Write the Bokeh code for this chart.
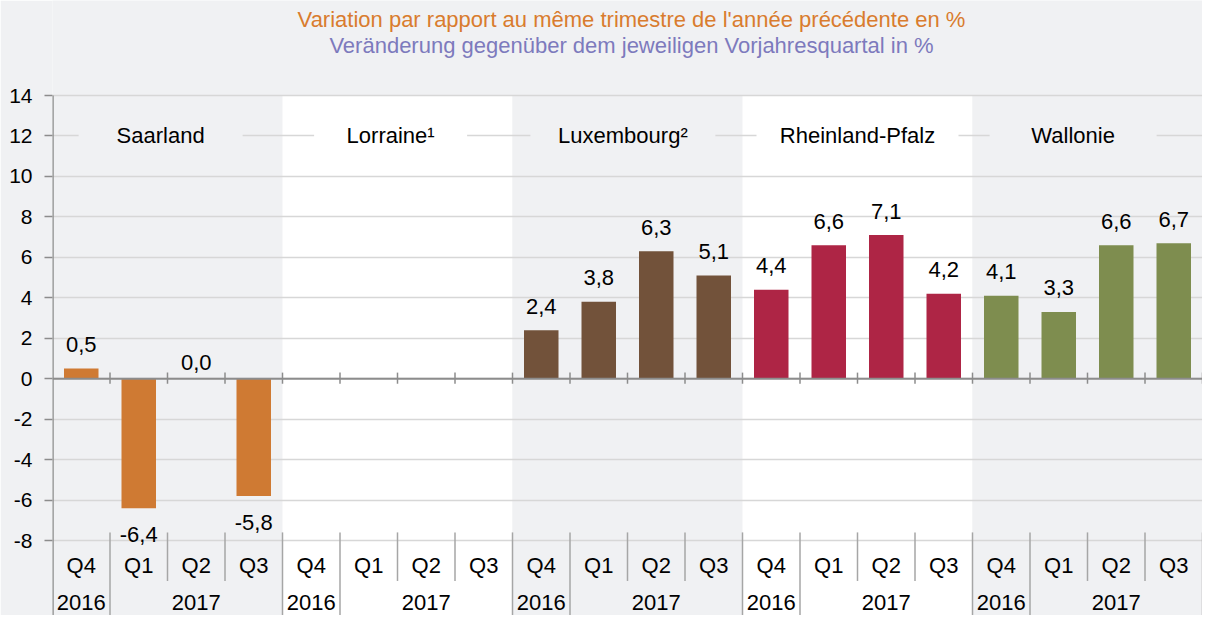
from bokeh.plotting import figure
from bokeh.models import Range1d, FixedTicker, ColumnDataSource, CustomJSTickFormatter
from bokeh.core.properties import value
from bokeh.embed import file_html
from bokeh.resources import INLINE

# ---------------- data ----------------
regions = ["Saarland", "Lorraine\u00b9", "Luxembourg\u00b2", "Rheinland-Pfalz", "Wallonie"]
quarters = ["Q4", "Q1", "Q2", "Q3"]
years = ["2016", "2017"]
saarland = [0.5, -6.4, 0.0, -5.8]
lorraine = [None, None, None, None]
luxembourg = [2.4, 3.8, 6.3, 5.1]
rheinland_pfalz = [4.4, 6.6, 7.1, 4.2]
wallonie = [4.1, 3.3, 6.6, 6.7]
y_ticks = [-8, -6, -4, -2, 0, 2, 4, 6, 8, 10, 12, 14]
title_fr = "Variation par rapport au même trimestre de l'année précédente en %"
title_de = "Veränderung gegenüber dem jeweiligen Vorjahresquartal in %"

# ---------------- styles ----------------
series = [saarland, lorraine, luxembourg, rheinland_pfalz, wallonie]
bar_colors = ["#cf7a33", "#999999", "#72523a", "#ae2545", "#7e8d4f"]
band_colors = ["#f0f1f3", "#ffffff", "#f0f1f3", "#ffffff", "#f0f1f3"]
label_centers = [-0.12, -0.12, -0.08, 0.0, -0.25]   # offset of region label from band centre (category units)
label_gaps = [164, 153, 185, 202, 167]               # px gap in gridline behind the region label
BG = "#f0f1f3"
FONT = value("Liberation Sans")
FS = "22px"
W, H = 1202, 615
LEFT = 52
TOP14 = 95                # px of y=14 from top
PX = 445 / 22.0           # px per y unit
CW = (W - LEFT) / 20.0    # px per category
YTOP = 14 + TOP14 / PX
YBOT = -8 - (H - TOP14 - 445) / PX

p = figure(width=W, height=H, output_backend="svg", toolbar_location=None,
           x_range=Range1d(0, 20), y_range=Range1d(YBOT, YTOP),
           min_border=0, min_border_left=LEFT,
           background_fill_color=BG, border_fill_color=BG, outline_line_color=None)

# titles
tx = (631 - LEFT) / CW
p.text(x=[tx], y=[14 + 76 / PX], text=[title_fr], text_font=FONT, text_font_size="22px",
       text_align="center", text_baseline="middle", text_color="#d97c2e")
p.text(x=[tx], y=[14 + 50 / PX], text=[title_de], text_font=FONT, text_font_size="22px",
       text_align="center", text_baseline="middle", text_color="#7d7abd")

# bands
for g in range(len(regions)):
    p.quad(left=[g * 4], right=[g * 4 + 4], bottom=[YBOT], top=[14], fill_color=band_colors[g],
           line_color=None, level="image")

# axes / grid
p.xaxis.visible = False
p.xgrid.visible = False
p.yaxis.ticker = FixedTicker(ticks=y_ticks)
p.yaxis.formatter = CustomJSTickFormatter(code="return tick.toString();")
p.yaxis.major_label_text_font = "Liberation Sans"
p.yaxis.major_label_text_font_size = "21px"
p.yaxis.major_label_text_color = "#000000"
p.yaxis.major_label_standoff = 12
p.yaxis.major_tick_out = 8
p.yaxis.major_tick_in = 0
p.yaxis.minor_tick_out = 0
p.yaxis.minor_tick_in = 0
p.yaxis.major_tick_line_color = "#8c8c8c"
p.yaxis.major_tick_line_width = 1.5
p.yaxis.axis_line_color = None
p.ygrid.grid_line_color = "#d7d7d7"
p.ygrid.grid_line_width = 1.5
p.segment(x0=[0], y0=[14], x1=[0], y1=[YBOT], line_color="#8c8c8c", line_width=2.5)

# gaps in the gridline behind region labels
for g, name in enumerate(regions):
    cx = g * 4 + 2 + label_centers[g]
    half = label_gaps[g] / CW / 2
    p.quad(left=[cx - half], right=[cx + half], bottom=[11.8], top=[12.2],
           fill_color=band_colors[g], line_color=None)
    p.text(x=[cx], y=[12], text=[name], text_font=FONT, text_font_size=FS,
           text_align="center", text_baseline="middle", text_color="#000000")

# bars and value labels
for g, vals in enumerate(series):
    xs, tops, labels, offs = [], [], [], []
    for q, v in enumerate(vals):
        if v is None:
            continue
        xs.append(g * 4 + q + 0.5)
        tops.append(v)
        labels.append(("%.1f" % v).replace(".", ","))
        offs.append(-24 if v > 0 else (-16 if v == 0 else 26))
    if not xs:
        continue
    src = ColumnDataSource(dict(x=xs, top=tops, label=labels, off=offs))
    p.vbar(x="x", top="top", bottom=0, width=0.6, source=src, fill_color=bar_colors[g], line_color=None)
    p.text(x="x", y="top", text="label", y_offset="off", source=src, text_font=FONT, text_font_size=FS,
           text_align="center", text_baseline="middle", text_color="#000000")

# zero line with crossing ticks
p.segment(x0=[0], y0=[0], x1=[20], y1=[0], line_color="#8c8c8c", line_width=2)
bx = list(range(1, 21))
p.segment(x0=bx, y0=[0.3] * 20, x1=bx, y1=[-0.25] * 20, line_color="#8c8c8c", line_width=1.5)

# category separators below the chart
short_x = [i for i in range(1, 21) if i % 4 in (2, 3)]
long_x = [i for i in range(1, 21) if i % 4 in (0, 1)]
p.segment(x0=short_x, y0=[-7.6] * len(short_x), x1=short_x, y1=[-10.0] * len(short_x),
          line_color="#a6a6a6", line_width=1.5)
p.segment(x0=long_x, y0=[-7.6] * len(long_x), x1=long_x, y1=[YBOT] * len(long_x),
          line_color="#a6a6a6", line_width=1.5)

# quarter and year labels
qx = [g * 4 + q + 0.5 for g in range(5) for q in range(4)]
qt = [quarters[q] for g in range(5) for q in range(4)]
p.text(x=qx, y=[-8 - 25 / PX] * 20, text=qt, text_font=FONT, text_font_size=FS,
       text_align="center", text_baseline="middle", text_color="#000000")
yx = [g * 4 + 0.5 for g in range(5)] + [g * 4 + 2.5 for g in range(5)]
yt = [years[0]] * 5 + [years[1]] * 5
p.text(x=yx, y=[-8 - 62 / PX] * 10, text=yt, text_font=FONT, text_font_size=FS,
       text_align="center", text_baseline="middle", text_color="#000000")

open("out.html", "w").write(file_html(p, INLINE))
